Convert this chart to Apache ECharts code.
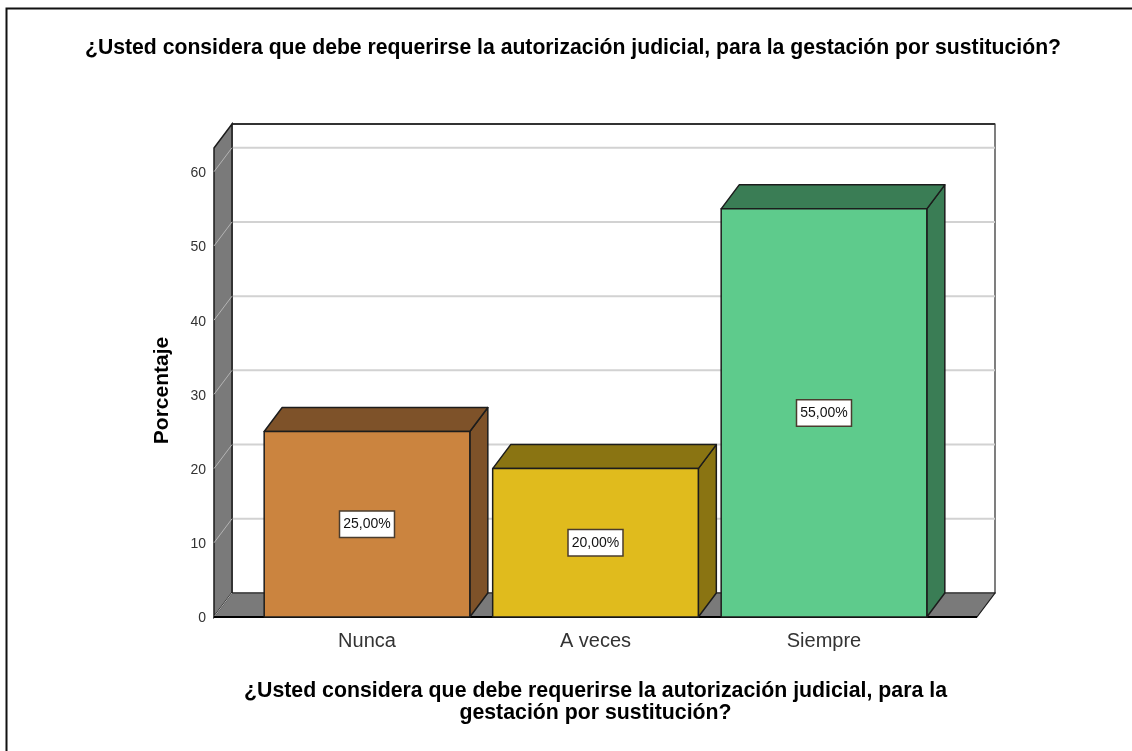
<!DOCTYPE html>
<html>
<head>
<meta charset="utf-8">
<title>Gestación por sustitución</title>
<script src="https://cdn.jsdelivr.net/npm/echarts@6/dist/echarts.min.js"></script>
<style>
html, body { margin: 0; padding: 0; background: #fff; }
#main { width: 1132px; height: 751px; }
</style>
</head>
<body>
<div id="main"></div>
<script>
var categories = ['Nunca', 'A veces', 'Siempre'];
var percentages = [25, 20, 55];
var gridTicks = [0, 10, 20, 30, 40, 50, 60];
var chartTitle = '¿Usted considera que debe requerirse la autorización judicial, para la gestación por sustitución?';
var xAxisTitle = '¿Usted considera que debe requerirse la autorización judicial, para la\ngestación por sustitución?';
var yAxisTitle = 'Porcentaje';

// depth of the fake 3d box, in pixels
var depthX = 18;
var depthY = -24;
var wallOverhang = 38.75;
var fontName = '"Liberation Sans", Arial, sans-serif';

var frontColors = ['#cb843f', '#e0bb1d', '#5ecb8c'];
var shadeColors = ['#7e5229', '#8a7412', '#3a7d55'];
var edgeColor = '#1c1c1c';
var wallColor = '#7a7a7a';

function renderWalls(params, api) {
    var cs = params.coordSys;
    var left = cs.x - wallOverhang;
    var right = cs.x + cs.width + wallOverhang;
    var top = cs.y;
    var bottom = cs.y + cs.height;
    var children = [{
        type: 'rect',
        shape: { x: left + depthX, y: top + depthY, width: right - left, height: bottom - top },
        style: { fill: '#fff', stroke: '#2a2a2a', lineWidth: 1.2 }
    }, {
        type: 'line',
        shape: { x1: left + depthX, y1: top + depthY, x2: right + depthX, y2: top + depthY },
        style: { stroke: '#333', lineWidth: 2 }
    }];
    gridTicks.forEach(function (tick) {
        if (tick === 0) return;
        var y = api.coord([0, tick])[1];
        children.push({
            type: 'line',
            shape: { x1: left + depthX, y1: y + depthY, x2: right + depthX, y2: y + depthY },
            style: { stroke: '#d2d2d2', lineWidth: 2 }
        });
    });
    children.push({
        type: 'polygon',
        shape: { points: [[left, top], [left + depthX, top + depthY], [left + depthX, bottom + depthY], [left, bottom]] },
        style: { fill: wallColor, stroke: edgeColor, lineWidth: 1.5 }
    });
    children.push({
        type: 'polygon',
        shape: { points: [[left, bottom], [left + depthX, bottom + depthY], [right + depthX, bottom + depthY], [right, bottom]] },
        style: { fill: wallColor, stroke: edgeColor, lineWidth: 1.2 }
    });
    gridTicks.forEach(function (tick) {
        var y = api.coord([0, tick])[1];
        children.push({
            type: 'line',
            shape: { x1: left, y1: y, x2: left + depthX, y2: y + depthY },
            style: { stroke: '#b4b4b4', lineWidth: 1 }
        });
    });
    children.push({
        type: 'line',
        shape: { x1: left, y1: bottom, x2: right, y2: bottom },
        style: { stroke: '#000', lineWidth: 2 }
    });
    return { type: 'group', children: children };
}

function renderBar(params, api) {
    var i = api.value(0);
    var value = api.value(1);
    var topPoint = api.coord([i, value]);
    var basePoint = api.coord([i, 0]);
    var width = api.size([1, 0])[0] * 0.9;
    var x0 = topPoint[0] - width / 2;
    var x1 = topPoint[0] + width / 2;
    var y0 = topPoint[1];
    var y1 = basePoint[1];
    var stroke = { stroke: edgeColor, lineWidth: 1.5, lineJoin: 'round' };
    return {
        type: 'group',
        children: [{
            type: 'polygon',
            shape: { points: [[x1, y0], [x1 + depthX, y0 + depthY], [x1 + depthX, y1 + depthY], [x1, y1]] },
            style: Object.assign({ fill: shadeColors[i] }, stroke)
        }, {
            type: 'polygon',
            shape: { points: [[x0, y0], [x0 + depthX, y0 + depthY], [x1 + depthX, y0 + depthY], [x1, y0]] },
            style: Object.assign({ fill: shadeColors[i] }, stroke)
        }, {
            type: 'rect',
            shape: { x: x0, y: y0, width: x1 - x0, height: y1 - y0 },
            style: Object.assign({ fill: frontColors[i] }, stroke)
        }, {
            type: 'text',
            style: {
                x: topPoint[0],
                y: (y0 + y1) / 2,
                text: value.toFixed(2).replace('.', ',') + '%',
                align: 'center',
                verticalAlign: 'middle',
                font: '14px ' + fontName,
                fill: '#111',
                backgroundColor: '#fff',
                borderColor: '#4a3c2e',
                borderWidth: 1.5,
                padding: [6, 3, 5, 3]
            }
        }]
    };
}

var myChart = echarts.init(document.getElementById('main'));

var option = {
    backgroundColor: '#fff',
    animation: false,
    title: {
        text: chartTitle,
        left: 568,
        top: 33,
        textAlign: 'center',
        textStyle: { fontFamily: fontName, fontSize: 21.2, fontWeight: 'bold', color: '#000' }
    },
    graphic: [{
        type: 'polyline',
        shape: { points: [[6.5, 751], [6.5, 8.5], [1132, 8.5]] },
        style: { stroke: '#111', lineWidth: 2, fill: null }
    }],
    grid: { left: 252.75, width: 685.5, top: 148, height: 469 },
    xAxis: {
        type: 'category',
        data: categories,
        axisLine: { show: false },
        axisTick: { show: false },
        axisLabel: { margin: 14, fontFamily: fontName, fontSize: 20, color: '#333' },
        name: xAxisTitle,
        nameLocation: 'middle',
        nameGap: 63,
        nameTextStyle: { fontFamily: fontName, fontSize: 21.3, fontWeight: 'bold', color: '#000', lineHeight: 22 }
    },
    yAxis: {
        type: 'value',
        min: 0,
        max: 63.2,
        interval: 10,
        offset: wallOverhang,
        axisLine: { show: false },
        axisTick: { show: false },
        splitLine: { show: false },
        axisLabel: { margin: 8, showMaxLabel: false, fontFamily: fontName, fontSize: 14, color: '#333', verticalAlign: 'top', lineHeight: 3 },
        name: yAxisTitle,
        nameLocation: 'middle',
        nameGap: 41,
        nameTextStyle: { fontFamily: fontName, fontSize: 21, fontWeight: 'bold', color: '#000', padding: [0, 16, 0, 0] }
    },
    series: [{
        type: 'custom',
        silent: true,
        clip: false,
        z: 1,
        renderItem: renderWalls,
        data: [[0, 0]]
    }, {
        type: 'custom',
        silent: true,
        clip: false,
        z: 2,
        renderItem: renderBar,
        encode: { x: 0, y: 1 },
        data: percentages.map(function (v, i) { return [i, v]; })
    }]
};

myChart.setOption(option);
</script>
</body>
</html>
